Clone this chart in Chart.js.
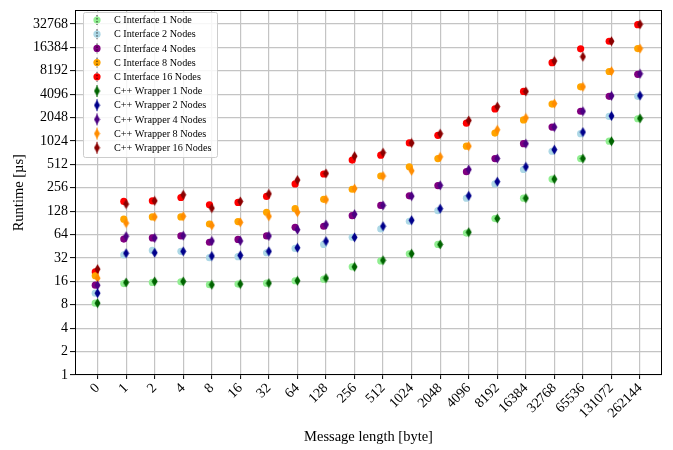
<!DOCTYPE html>
<html>
<head>
<meta charset="utf-8">
<script src="https://cdn.jsdelivr.net/npm/chart.js@4.4.0/dist/chart.umd.min.js"></script>
<style>
    html, body { margin: 0; padding: 0; background: #fff; }
    #wrap { position: relative; width: 673px; height: 450px; }
</style>
</head>
<body>
<div id="wrap"><canvas id="runtimeChart"></canvas></div>
<script>
// message lengths on the x axis, runtimes in microseconds (log2 y axis)
var msgLengths = ['0', '1', '2', '4', '8', '16', '32', '64', '128', '256', '512', '1024',
    '2048', '4096', '8192', '16384', '32768', '65536', '131072', '262144'];
var yTicks = [1, 2, 4, 8, 16, 32, 64, 128, 256, 512, 1024, 2048, 4096, 8192, 16384, 32768];

var cNode1  = [8.4, 15, 15.5, 15.8, 14.5, 14.8, 15.2, 16.3, 17.1, 24.6, 29.3, 36.3, 47.8, 67, 103, 188, 331, 609, 1017, 1980];
var cNode2  = [11.3, 35, 40, 39, 32.3, 33.3, 37.4, 42.5, 47.8, 59, 75.6, 95, 130, 188, 287, 440, 756, 1270, 2120, 3850];
var cNode4  = [14.3, 56, 58, 61.5, 51, 55.5, 61.5, 79.5, 82, 112, 152, 202, 273, 413, 609, 947, 1545, 2470, 3850, 7380];
var cNode8  = [18.9, 101, 108, 108, 87.6, 94, 124, 138, 182, 245, 363, 477, 609, 878, 1296, 1910, 3060, 5100, 8020, 15800];
var cNode16 = [21.2, 171, 174, 192, 155, 166, 198, 287, 385, 581, 672, 966, 1210, 1736, 2645, 4450, 10430, 15700, 19660, 32100];

var wNode1  = [8.4, 15.5, 16, 16, 14.5, 14.8, 15.2, 16.3, 17.6, 24.6, 29.9, 36.3, 47.8, 68.7, 103, 188, 331, 609, 1017, 2000];
var wNode2  = [11.3, 36.8, 37.4, 39, 33.9, 34.6, 39, 43.3, 52.7, 59, 82, 98, 138, 202, 307, 477, 792, 1333, 2150, 3930];
var wNode4  = [14.3, 61, 58, 62, 53, 53, 61.5, 74, 86, 117, 152, 200, 275, 440, 609, 947, 1545, 2470, 3900, 7500];
var wNode8  = [17.6, 90, 108, 110, 84, 92, 110, 124, 180, 250, 363, 424, 640, 878, 1428, 2030, 3100, 5100, 8100, 15800];
var wNode16 = [23, 158, 174, 208, 140, 171, 214, 322, 392, 653, 725, 966, 1270, 1882, 2835, 4450, 10950, 12430, 19660, 32500];

var serif = "'Liberation Serif', 'DejaVu Serif', serif";

function thinDiamond(color) {
    var c = document.createElement('canvas');
    c.width = 7; c.height = 11;
    var g = c.getContext('2d');
    g.fillStyle = color;
    g.beginPath();
    g.moveTo(3.5, 0.5); g.lineTo(6.5, 5.5); g.lineTo(3.5, 10.5); g.lineTo(0.5, 5.5);
    g.closePath();
    g.fill();
    return c;
}

function points(values, shift) {
    return values.map(function (v, i) { return { x: i + shift, y: v }; });
}

function cSeries(label, values, color) {
    return {
        label: label, data: points(values, -0.08), kind: 'c',
        pointStyle: 'circle', pointRadius: 3.6,
        backgroundColor: color, borderColor: color, borderWidth: 0,
        showLine: false, order: 2
    };
}

function wSeries(label, values, color) {
    return {
        label: label, data: points(values, 0), kind: 'w', color: color,
        pointStyle: thinDiamond(color), pointRadius: 4,
        backgroundColor: color, borderColor: color, borderWidth: 0,
        showLine: false, order: 1
    };
}

var datasets = [
    cSeries('C Interface 1 Node', cNode1, '#90ee90'),
    cSeries('C Interface 2 Nodes', cNode2, '#add8e6'),
    cSeries('C Interface 4 Nodes', cNode4, '#800080'),
    cSeries('C Interface 8 Nodes', cNode8, '#ffa500'),
    cSeries('C Interface 16 Nodes', cNode16, '#ff0000'),
    wSeries('C++ Wrapper 1 Node', wNode1, '#006400'),
    wSeries('C++ Wrapper 2 Nodes', wNode2, '#00008b'),
    wSeries('C++ Wrapper 4 Nodes', wNode4, '#4b0082'),
    wSeries('C++ Wrapper 8 Nodes', wNode8, '#ff8c00'),
    wSeries('C++ Wrapper 16 Nodes', wNode16, '#8b0000')
];

// frame + legend box in the upper left corner
var framePlugin = {
    id: 'frame',
    afterDraw: function (chart) {
        var ctx = chart.ctx, a = chart.chartArea;
        ctx.save();
        ctx.strokeStyle = '#000';
        ctx.lineWidth = 1;
        ctx.strokeRect(Math.round(a.left) + 0.5, Math.round(a.top) + 0.5,
            Math.round(a.right - a.left) - 1, Math.round(a.bottom - a.top) - 1);

        var bx = 83, by = 12, bw = 134, bh = 145;
        ctx.fillStyle = 'rgba(255,255,255,0.85)';
        ctx.strokeStyle = '#cccccc';
        ctx.beginPath();
        ctx.roundRect(bx + 0.5, by + 0.5, bw, bh, 2);
        ctx.fill();
        ctx.stroke();

        ctx.font = '10.2px ' + serif;
        ctx.textBaseline = 'middle';
        ctx.textAlign = 'left';
        chart.data.datasets.forEach(function (ds, i) {
            var y = 20 + i * 14.2, x = 97;
            if (ds.kind === 'c') {
                ctx.fillStyle = ds.backgroundColor;
                ctx.beginPath();
                ctx.arc(x, y, 3.6, 0, Math.PI * 2);
                ctx.fill();
                ctx.strokeStyle = '#000';
                ctx.lineWidth = 0.8;
                ctx.setLineDash([1.5, 1.5]);
                ctx.beginPath();
                ctx.moveTo(x, y - 5); ctx.lineTo(x, y + 5);
                ctx.stroke();
                ctx.setLineDash([]);
            } else {
                ctx.strokeStyle = ds.color;
                ctx.lineWidth = 1;
                ctx.beginPath();
                ctx.moveTo(x, y - 6); ctx.lineTo(x, y + 6);
                ctx.stroke();
                ctx.drawImage(ds.pointStyle, x - 3.5, y - 5.5);
            }
            ctx.fillStyle = '#000';
            ctx.fillText(ds.label, 114, y + 0.5);
        });
        ctx.restore();
    }
};

new Chart(document.getElementById('runtimeChart'), {
    type: 'scatter',
    data: { datasets: datasets },
    plugins: [framePlugin],
    options: {
        responsive: true,
        maintainAspectRatio: false,
        animation: false,
        events: [],
        layout: { padding: { top: 7, right: 11, left: 0, bottom: 0 } },
        plugins: { legend: { display: false }, tooltip: { enabled: false } },
        scales: {
            x: {
                type: 'linear',
                min: -0.79,
                max: 19.77,
                afterBuildTicks: function (scale) {
                    scale.ticks = msgLengths.map(function (_, i) { return { value: i }; });
                },
                afterFit: function (scale) { scale.height = 75; },
                grid: { color: '#c4c4c4', lineWidth: 1.2, tickColor: '#000', tickLength: 4, tickWidth: 1 },
                border: { display: false },
                ticks: {
                    autoSkip: false,
                    maxRotation: 45, minRotation: 45,
                    color: '#000',
                    padding: 1,
                    font: { family: serif, size: 14 },
                    callback: function (v) { return msgLengths[v]; }
                },
                title: {
                    display: true, text: 'Message length [byte]', color: '#000',
                    font: { family: serif, size: 14.5 }, padding: { top: 4, bottom: 4 }
                }
            },
            y: {
                type: 'logarithmic',
                min: 1,
                max: 49000,
                afterBuildTicks: function (scale) {
                    scale.ticks = yTicks.map(function (v) { return { value: v }; });
                },
                afterFit: function (scale) { scale.width = 75; },
                grid: { color: '#c4c4c4', lineWidth: 1.2, tickColor: '#000', tickLength: 5, tickWidth: 1 },
                border: { display: false },
                ticks: {
                    color: '#000',
                    padding: 2,
                    font: { family: serif, size: 14 },
                    callback: function (v) { return String(v); }
                },
                title: {
                    display: true, text: 'Runtime [µs]', color: '#000',
                    font: { family: serif, size: 14.5 }, padding: { top: 10, bottom: 4 }
                }
            }
        }
    }
});
</script>
</body>
</html>
